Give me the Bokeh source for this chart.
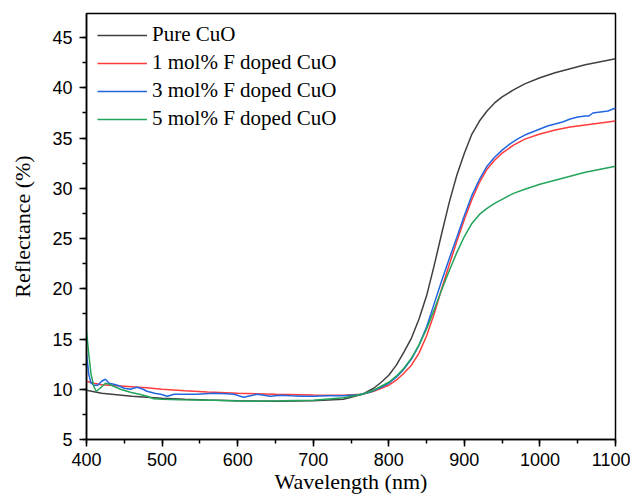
from bokeh.plotting import figure
from bokeh.models import Range1d, SingleIntervalTicker, Legend, LegendItem
from bokeh.embed import file_html
from bokeh.resources import INLINE

# ---- data ----
wl_pure = [400, 420, 440, 460, 480, 500, 530, 560, 600, 650, 700, 740, 765, 780, 790,
           800, 810, 820, 830, 840, 850, 860, 870, 880, 890, 900, 910, 920, 930, 940,
           950, 965, 980, 1000, 1020, 1040, 1060, 1080, 1100]
r_pure = [9.9, 9.6, 9.45, 9.3, 9.2, 9.1, 9.0, 8.92, 8.85, 8.8, 8.85, 9.0, 9.5, 10.1, 10.7,
          11.4, 12.4, 13.7, 15.1, 17.0, 19.3, 22.3, 25.5, 28.6, 31.3, 33.5, 35.4, 36.7, 37.7, 38.5,
          39.1, 39.8, 40.4, 41.0, 41.5, 41.9, 42.3, 42.6, 42.9]

wl_f1 = [400, 410, 420, 440, 460, 480, 500, 530, 560, 600, 650, 700, 740, 765, 780, 790,
         800, 810, 820, 830, 840, 850, 860, 870, 880, 890, 900, 910, 920, 930, 940,
         950, 965, 980, 1000, 1020, 1040, 1060, 1080, 1100]
r_f1 = [10.8, 10.6, 10.45, 10.35, 10.25, 10.15, 10.0, 9.85, 9.72, 9.6, 9.5, 9.42, 9.4, 9.5, 9.8, 10.1,
        10.4, 10.9, 11.6, 12.4, 13.6, 15.3, 17.5, 20.0, 22.4, 24.7, 26.9, 28.9, 30.6, 31.9, 32.8,
        33.5, 34.3, 34.9, 35.4, 35.8, 36.1, 36.3, 36.5, 36.7]

wl_f3 = [400, 403, 406, 410, 415, 420, 425, 430, 436, 441, 450, 458, 467, 475, 480, 490, 498,
         507, 516, 530, 546, 568, 585, 595, 608, 617, 626, 635, 643, 657, 670, 685, 700, 720,
         740, 760, 775, 790, 800, 810, 820, 830, 840, 850, 860, 870, 880, 890, 900, 910, 920,
         930, 940, 950, 960, 970, 980, 990, 1000, 1010, 1020, 1030, 1040, 1050, 1060, 1065,
         1070, 1080, 1090, 1100]
r_f3 = [13.5, 11.5, 10.6, 10.4, 10.4, 10.8, 11.0, 10.6, 10.5, 10.4, 10.1, 10.0, 10.2, 10.0, 9.8,
        9.6, 9.5, 9.3, 9.5, 9.5, 9.5, 9.6, 9.55, 9.5, 9.2, 9.35, 9.5, 9.4, 9.3, 9.4, 9.35, 9.3,
        9.3, 9.35, 9.35, 9.45, 9.7, 10.2, 10.6, 11.2, 12.0, 13.0, 14.4, 16.2, 18.5, 20.8, 23.0,
        25.1, 27.3, 29.3, 30.9, 32.2, 33.1, 33.8, 34.4, 34.9, 35.3, 35.6, 35.9, 36.2, 36.4, 36.6,
        36.9, 37.1, 37.2, 37.2, 37.5, 37.6, 37.7, 38.0]

wl_f5 = [400, 403, 406, 410, 413, 418, 425, 430, 436, 445, 458, 470, 480, 489, 500, 524, 568,
         612, 657, 700, 740, 765, 780, 790, 800, 810, 820, 830, 840, 850, 860, 870, 880, 890,
         900, 910, 920, 930, 940, 950, 965, 980, 1000, 1020, 1040, 1060, 1080, 1100]
r_f5 = [15.8, 13.5, 11.5, 10.2, 9.8, 10.1, 10.6, 10.5, 10.3, 10.0, 9.7, 9.5, 9.3, 9.05, 9.0,
        8.95, 8.9, 8.8, 8.85, 8.9, 9.15, 9.5, 9.9, 10.3, 10.7, 11.3, 12.1, 13.1, 14.4, 16.0,
        17.9, 19.9, 21.8, 23.6, 25.2, 26.5, 27.4, 28.0, 28.5, 28.9, 29.5, 29.9, 30.4, 30.8,
        31.2, 31.6, 31.9, 32.2]

labels = ["Pure CuO", "1 mol% F doped CuO", "3 mol% F doped CuO", "5 mol% F doped CuO"]
colors = ["#404040", "#ff3b3b", "#2266e0", "#22a45a"]

p = figure(width=630, height=496, output_backend="svg", toolbar_location=None,
           x_range=Range1d(400, 1100), y_range=Range1d(5, 47.4),
           min_border_left=86, min_border_right=15, min_border_top=13, min_border_bottom=57,
           background_fill_color="white", border_fill_color="white")
p.grid.visible = False
p.outline_line_color = "black"
p.outline_line_width = 1.5

p.xaxis.ticker = SingleIntervalTicker(interval=100, num_minor_ticks=2)
p.yaxis.ticker = SingleIntervalTicker(interval=5, num_minor_ticks=2)
for ax in (p.xaxis[0], p.yaxis[0]):
    ax.axis_line_width = 1.5
    ax.axis_line_color = "black"
    ax.major_tick_line_width = 1.5
    ax.minor_tick_line_width = 1.5
    ax.major_tick_in = 0
    ax.major_tick_out = 7
    ax.minor_tick_in = 0
    ax.minor_tick_out = 4
    ax.major_label_text_font = "Liberation Sans"
    ax.major_label_text_font_size = "18px"
    ax.major_label_text_color = "black"
    ax.axis_label_text_font = "Liberation Serif"
    ax.axis_label_text_font_size = "22px"
    ax.axis_label_text_font_style = "normal"
    ax.axis_label_text_color = "black"
p.xaxis.axis_label = "Wavelength (nm)"
p.yaxis.axis_label = "Reflectance (%)"
p.xaxis.major_label_standoff = 6
p.yaxis.major_label_standoff = 7
p.xaxis.axis_label_standoff = 0
p.yaxis.axis_label_standoff = 14

series = [(wl_pure, r_pure), (wl_f1, r_f1), (wl_f3, r_f3), (wl_f5, r_f5)]
items = []
for (xs, ys), lab, col in zip(series, labels, colors):
    r = p.line(xs, ys, line_color=col, line_width=1.5)
    items.append(LegendItem(label=lab, renderers=[r]))

legend = Legend(items=items, location=(11, 308), border_line_color=None,
                background_fill_alpha=0, margin=0, padding=0, spacing=3,
                glyph_width=50, glyph_height=24, label_height=24, label_standoff=5,
                label_text_font="Liberation Serif", label_text_font_size="21px",
                label_text_color="black")
p.add_layout(legend)

open("out.html", "w").write(file_html(p, INLINE))
